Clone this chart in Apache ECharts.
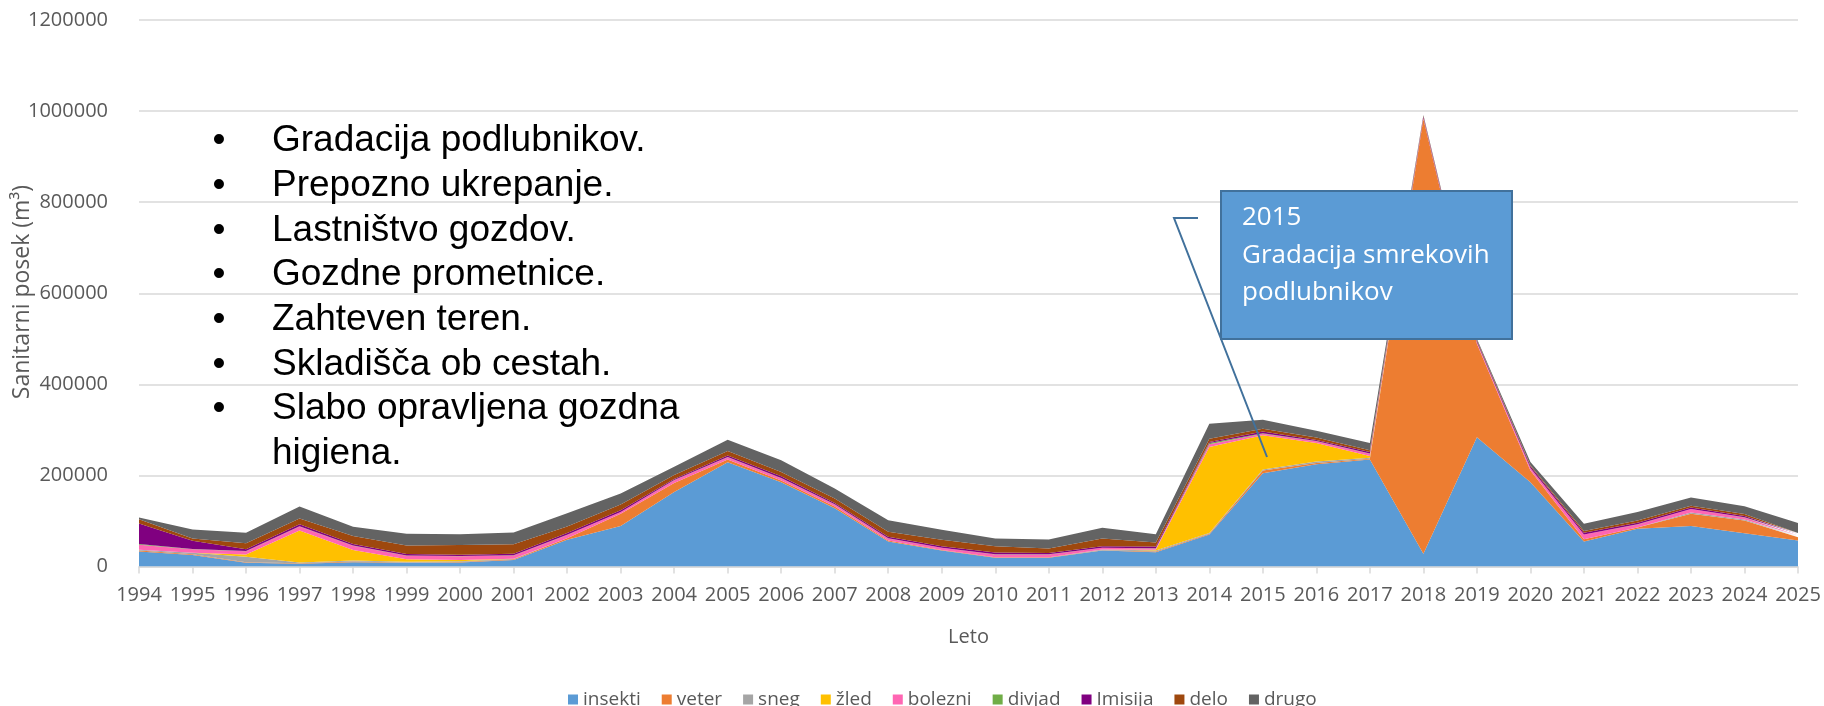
<!DOCTYPE html>
<html>
<head>
<meta charset="utf-8">
<script src="https://cdn.jsdelivr.net/npm/echarts@6.0.0/dist/echarts.min.js"></script>
<style>
  html, body { margin: 0; padding: 0; background: #fff; }
  #chart { width: 1824px; height: 706px; }
</style>
</head>
<body>
<div id="chart"></div>
<script>
const years = ["1994", "1995", "1996", "1997", "1998", "1999", "2000", "2001", "2002", "2003", "2004",
  "2005", "2006", "2007", "2008", "2009", "2010", "2011", "2012", "2013", "2014", "2015", "2016",
  "2017", "2018", "2019", "2020", "2021", "2022", "2023", "2024", "2025"];

// sanitarni posek po vzrokih (m3), od spodaj navzgor
const insekti = [33000, 25000, 8000, 6000, 9500, 8000, 9000, 14500, 58600, 88700, 163500, 229000, 185000,
  128000, 55000, 35000, 19000, 19000, 35000, 31500, 70400, 205000, 224300, 235000, 28000, 284000, 185000,
  55000, 82800, 88700, 73000, 57000];
const veter = [2000, 2000, 1500, 1000, 1500, 700, 1000, 1500, 3700, 27000, 20000, 6000, 3700, 3700, 2200,
  1500, 1500, 1500, 700, 1500, 1500, 5800, 3000, 1500, 955000, 205000, 25700, 5000, 3000, 27000, 27800, 7300];
const sneg = [2000, 3000, 12000, 2000, 2000, 2000, 1500, 1000, 0, 0, 0, 0, 0, 0, 0, 0, 0, 0, 1500, 2200,
  1500, 2200, 3000, 2200, 0, 0, 0, 0, 0, 3000, 2200, 1500];
const zled = [0, 0, 5000, 70000, 23000, 5000, 2500, 0, 0, 0, 0, 0, 0, 0, 0, 0, 0, 0, 0, 1500, 189000,
  75000, 41000, 3700, 0, 0, 0, 0, 0, 0, 0, 0];
const bolezni = [11000, 8000, 7000, 9000, 9500, 8000, 8500, 7000, 7000, 3700, 5800, 5000, 5000, 4400, 4400,
  4400, 5800, 5800, 3700, 3000, 5800, 3700, 3700, 5000, 2000, 3000, 5000, 10000, 6600, 7300, 4400, 2200];
const divjad = [1500, 500, 500, 500, 500, 500, 500, 500, 500, 500, 500, 500, 500, 500, 500, 500, 500, 500,
  500, 500, 2900, 1000, 500, 500, 300, 300, 500, 500, 500, 500, 500, 500];
const imisija = [45000, 18000, 4000, 4000, 3500, 3000, 3000, 3500, 3500, 3700, 2200, 3000, 3700, 3000, 3000,
  3000, 3700, 3000, 3000, 3700, 2200, 3700, 2200, 3700, 3000, 3000, 3700, 3700, 3000, 3000, 3000, 3000];
const delo = [9500, 5000, 13000, 13000, 17500, 19000, 21000, 21000, 14500, 12500, 8800, 10000, 9500, 9500,
  11000, 14500, 14000, 9500, 17000, 8800, 7300, 5800, 5800, 3700, 1500, 2000, 2200, 3700, 5000, 3700, 4400, 2200];
const drugo = [3700, 20000, 23000, 26000, 20500, 25700, 24000, 25500, 29000, 24000, 18300, 25000, 25700,
  22000, 25700, 22000, 17000, 20000, 23500, 18000, 33000, 20000, 14700, 16000, 1500, 3000, 7300, 16000,
  19000, 18300, 16900, 22000];

const yTicks = { min: 0, max: 1200000, interval: 200000 };

const bullets = ["Gradacija podlubnikov.", "Prepozno ukrepanje.", "Lastništvo gozdov.", "Gozdne prometnice.",
  "Zahteven teren.", "Skladišča ob cestah.", "Slabo opravljena gozdna"];
const bulletWrap = "higiena.";
const noteLines = ["2015", "Gradacija smrekovih", "podlubnikov"];

const layers = [
  { name: "insekti", data: insekti, color: "#5B9BD5" },
  { name: "veter", data: veter, color: "#ED7D31" },
  { name: "sneg", data: sneg, color: "#A5A5A5" },
  { name: "žled", data: zled, color: "#FFC000" },
  { name: "bolezni", data: bolezni, color: "#FF66B3" },
  { name: "divjad", data: divjad, color: "#70AD47" },
  { name: "Imisija", data: imisija, color: "#800080" },
  { name: "delo", data: delo, color: "#9E480E" },
  { name: "drugo", data: drugo, color: "#636363" }
];

const font = '"Open Sans", sans-serif';
const grey = "#595959";

const graphics = [];
bullets.forEach((t, i) => {
  const y = 141 + i * 44.7;
  graphics.push({ type: "text", x: 219, y: y, z: 100,
    style: { text: "•", font: '37px "Liberation Sans"', fill: "#000", align: "center", verticalAlign: "middle" } });
  graphics.push({ type: "text", x: 272, y: y, z: 100,
    style: { text: t, font: '37px "Liberation Sans"', fill: "#000", align: "left", verticalAlign: "middle" } });
});
graphics.push({ type: "text", x: 272, y: 141 + bullets.length * 44.7, z: 100,
  style: { text: bulletWrap, font: '37px "Liberation Sans"', fill: "#000", align: "left", verticalAlign: "middle" } });

// os y - naslov
graphics.push({ type: "text", x: 22, y: 292, rotation: Math.PI / 2, z: 100,
  style: { text: "Sanitarni posek (m³)", font: "23px " + font, fill: grey, align: "center", verticalAlign: "middle" } });

// okvir z opombo in puščica
graphics.push({ type: "polyline", z: 100,
  shape: { points: [[1198, 218], [1174, 218], [1267, 457]] },
  style: { stroke: "#41719C", lineWidth: 2, fill: null } });
graphics.push({ type: "rect", z: 100,
  shape: { x: 1221, y: 191, width: 291, height: 148 },
  style: { fill: "#5B9BD5", stroke: "#41719C", lineWidth: 2 } });
noteLines.forEach((t, i) => {
  graphics.push({ type: "text", x: 1242, y: 218 + i * 37.5, z: 101,
    style: { text: t, font: "26px " + font, fill: "#fff", align: "left", verticalAlign: "middle" } });
});

const chart = echarts.init(document.getElementById("chart"));
chart.setOption({
  animation: false,
  backgroundColor: "#fff",
  grid: { left: 139, right: 26, top: 20, bottom: 139.5 },
  legend: {
    left: 563,
    top: 685,
    icon: "rect",
    itemWidth: 10,
    itemHeight: 10,
    itemGap: 21,
    textStyle: { color: grey, fontSize: 19, fontFamily: font },
    data: layers.map(l => l.name)
  },
  xAxis: {
    type: "category",
    data: years,
    boundaryGap: false,
    name: "Leto",
    nameLocation: "middle",
    nameGap: 61,
    nameTextStyle: { color: grey, fontSize: 20, fontFamily: font },
    axisLine: { lineStyle: { color: "#D9D9D9", width: 1.5 } },
    axisTick: { show: true, length: 7, lineStyle: { color: "#D9D9D9", width: 1.5 } },
    axisLabel: { color: grey, fontSize: 20, fontFamily: font, margin: 19, interval: 0 },
    splitLine: { show: false }
  },
  yAxis: {
    type: "value",
    min: yTicks.min,
    max: yTicks.max,
    interval: yTicks.interval,
    axisLine: { show: false },
    axisTick: { show: false },
    axisLabel: { color: grey, fontSize: 20, fontFamily: font, margin: 31, formatter: v => String(v) },
    splitLine: { lineStyle: { color: "#D9D9D9", width: 1.5 } }
  },
  series: layers.map(l => ({
    name: l.name,
    type: "line",
    stack: "total",
    data: l.data,
    symbol: "none",
    itemStyle: { color: l.color },
    lineStyle: { width: 0 },
    areaStyle: { color: l.color, opacity: 1 }
  })),
  graphic: graphics
});
</script>
</body>
</html>
